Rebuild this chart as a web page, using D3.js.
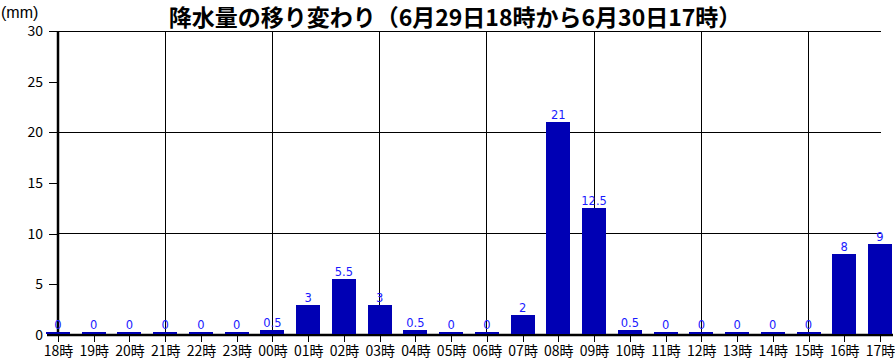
<!DOCTYPE html>
<html><head><meta charset="utf-8">
<script src="https://cdn.jsdelivr.net/npm/d3@7"></script>
<style>body{margin:0;background:#fff}svg{display:block}</style>
</head><body>
<svg id="c" width="895" height="359"></svg>
<script>
const categories = ["18時","19時","20時","21時","22時","23時","00時","01時","02時","03時","04時","05時","06時","07時","08時","09時","10時","11時","12時","13時","14時","15時","16時","17時"];
const values = [0,0,0,0,0,0,0.5,3,5.5,3,0.5,0,0,2,21,12.5,0.5,0,0,0,0,0,8,9];
const yTicks = [0,5,10,15,20,25,30];
const gridY = [10,20,30];
const title = "降水量の移り変わり（6月29日18時から6月30日17時）";
const unit = "(mm)";

const svg = d3.select("#c");
const font = "'Noto Sans CJK JP', sans-serif";
const x = d3.scalePoint().domain(categories).range([58, 880]);
const y = d3.scaleLinear().domain([0, 30]).range([335, 31]);

// horizontal grid
svg.append("g").selectAll("line").data(gridY).join("line")
  .attr("x1",58).attr("x2",881).attr("y1",d=>y(d)).attr("y2",d=>y(d))
  .attr("stroke","#000").attr("stroke-width",1).attr("shape-rendering","crispEdges");
// vertical grid every 3 categories
svg.append("g").selectAll("line").data(categories.filter((d,i)=>i%3===0 && i>0)).join("line")
  .attr("x1",d=>x(d)).attr("x2",d=>x(d)).attr("y1",31).attr("y2",335)
  .attr("stroke","#000").attr("stroke-width",1).attr("shape-rendering","crispEdges");

// y axis
const ya = svg.append("g").attr("transform","translate(58,0)")
  .call(d3.axisLeft(y).tickValues(yTicks).tickSize(9).tickPadding(6));
ya.select(".domain").attr("stroke-width",2.5).attr("d","M0,31V335");
ya.selectAll(".tick line").attr("stroke-width",1).attr("shape-rendering","crispEdges");
ya.selectAll("text").attr("font-family",font).attr("font-size",14).attr("fill","#000");

// x axis
const xa = svg.append("g").attr("transform","translate(0,335)")
  .call(d3.axisBottom(x).tickSize(7).tickPadding(4));
xa.select(".domain").attr("stroke-width",2.5).attr("d","M47,0H893");
xa.selectAll(".tick line").attr("stroke-width",1).attr("shape-rendering","crispEdges");
xa.selectAll("text").attr("font-family",font).attr("font-size",14).attr("fill","#000");

// bars
svg.append("g").selectAll("rect").data(values).join("rect")
  .attr("x",(d,i)=>x(categories[i])-12).attr("width",24)
  .attr("y",d=> d>0 ? y(d) : 331.5).attr("height",d=> d>0 ? 334-y(d) : 2.5)
  .attr("fill","#0000b4").attr("shape-rendering","crispEdges");

// value labels
svg.append("g").selectAll("text").data(values).join("text")
  .attr("x",(d,i)=>x(categories[i])).attr("y",d=>(d>0?y(d):332)-3)
  .attr("text-anchor","middle").attr("font-family","'DejaVu Sans', sans-serif").attr("font-size",11.5)
  .attr("fill","#1a1aff").text(d=>d);

svg.append("text").attr("x",455).attr("y",26).attr("text-anchor","middle")
  .attr("font-family",font).attr("font-weight","bold").attr("font-size",23).text(title);
svg.append("text").attr("x",1).attr("y",18)
  .attr("font-family","'Liberation Sans', sans-serif").attr("font-size",16).text(unit);
</script>
</body></html>
